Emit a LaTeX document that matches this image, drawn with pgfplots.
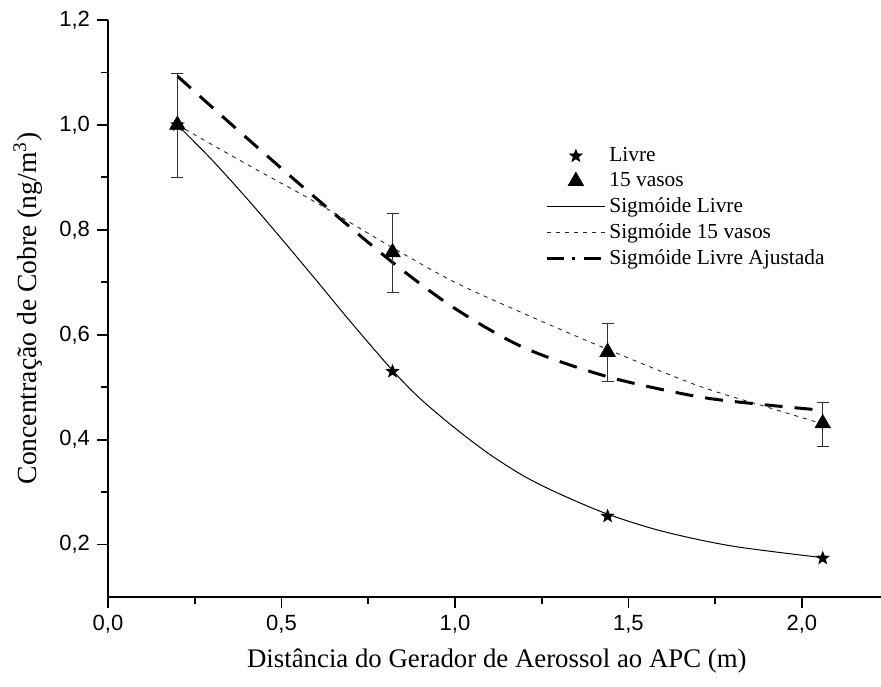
\documentclass[border=0pt]{standalone}
\usepackage{fontspec}
\setmainfont{Liberation Serif}
\newfontfamily\arial{Liberation Sans}
\usepackage{pgfplots}
\pgfplotsset{compat=1.18}

\pgfdeclareplotmark{fstar}{%
  \pgfpathmoveto{\pgfpointpolar{90}{\pgfplotmarksize}}%
  \pgfpathlineto{\pgfpointpolar{126}{0.42\pgfplotmarksize}}%
  \pgfpathlineto{\pgfpointpolar{162}{\pgfplotmarksize}}%
  \pgfpathlineto{\pgfpointpolar{198}{0.42\pgfplotmarksize}}%
  \pgfpathlineto{\pgfpointpolar{234}{\pgfplotmarksize}}%
  \pgfpathlineto{\pgfpointpolar{270}{0.42\pgfplotmarksize}}%
  \pgfpathlineto{\pgfpointpolar{306}{\pgfplotmarksize}}%
  \pgfpathlineto{\pgfpointpolar{342}{0.42\pgfplotmarksize}}%
  \pgfpathlineto{\pgfpointpolar{18}{\pgfplotmarksize}}%
  \pgfpathlineto{\pgfpointpolar{54}{0.42\pgfplotmarksize}}%
  \pgfpathclose
  \pgfusepathqfillstroke}

\begin{document}
\begin{tikzpicture}
\begin{axis}[
  scale only axis, width=386.5pt, height=288.5pt,
  xmin=0, xmax=2.228, ymin=0.1, ymax=1.2,
  axis x line*=bottom, axis y line*=left,
  axis line style={-, line width=0.9pt},
  xtick={0,0.5,1.0,1.5,2.0}, ytick={0.2,0.4,0.6,0.8,1.0,1.2},
  minor x tick num=1, minor y tick num=1,
  tick align=outside,
  major tick length=5.5pt, minor tick length=3.5pt,
  every tick/.style={black, line width=0.9pt},
  ticklabel style={font=\arial\fontsize{11}{13}\selectfont},
  /pgf/number format/use comma,
  /pgf/number format/fixed,
  /pgf/number format/fixed zerofill,
  /pgf/number format/precision=1,
  /pgf/number format/assume math mode=true,
  label style={font=\fontsize{13.4}{16}\selectfont},
  xlabel={Distância do Gerador de Aerossol ao APC (m)},
  ylabel={Concentração de Cobre (ng/m\textsuperscript{3})},
  xlabel style={at={(axis description cs:0.503,-0.111)}, anchor=center},
  ylabel style={at={(axis description cs:-0.1035,0.5)}, anchor=center, font=\fontsize{13.8}{16}\selectfont},
  legend style={draw=none, fill=none, at={(axis description cs:0.5653,0.784)}, anchor=north west,
    font=\fontsize{10.7}{12.25}\selectfont, inner sep=0pt, row sep=1.6pt,
    nodes={inner xsep=1.5pt, inner ysep=1.2pt}},
  legend cell align=left,
  legend image code/.code={\draw[mark repeat=2,mark phase=2,#1] plot coordinates {(0pt,0pt) (14.5pt,0pt) (29pt,0pt)};},
]
% Sigmoide Livre
\addplot[black, line width=0.5pt, smooth, forget plot] coordinates {
(0.2,1.000) (0.3,0.933) (0.4,0.860) (0.5,0.783) (0.6,0.704) (0.7,0.624)
(0.82,0.532) (0.9,0.478) (1.0,0.422) (1.1,0.372) (1.2,0.330) (1.3,0.297)
(1.44,0.258) (1.6,0.225) (1.8,0.197) (2.06,0.175)};
% Sigmoide 15 vasos
\addplot[black!85, line width=0.45pt, dash pattern=on 2pt off 2.5pt, smooth, forget plot] coordinates {
(0.2,1.000) (0.4,0.925) (0.6,0.852) (0.82,0.766) (1.0,0.700) (1.2,0.640)
(1.44,0.572) (1.7,0.503) (1.9,0.462) (2.06,0.430)};
% Sigmoide Livre Ajustada
\addplot[black, line width=1.5pt, dash pattern=on 9pt off 6pt, smooth, forget plot] coordinates {
(0.2,1.093) (0.4,0.975) (0.6,0.860) (0.82,0.738) (1.0,0.650) (1.2,0.575)
(1.44,0.520) (1.7,0.482) (1.9,0.466) (2.06,0.456)};
% Livre
\addplot[only marks, mark=fstar, mark size=3.2pt, black, forget plot] coordinates {
(0.2,1.0) (0.82,0.53) (1.44,0.254) (2.06,0.174)};
% 15 vasos
\addplot[only marks, mark=triangle*, mark size=4.4pt, black, forget plot,
  error bars/.cd, y dir=both, y explicit,
  error bar style={line width=0.5pt, black!80},
  error mark options={rotate=90, mark size=3pt, line width=0.5pt, black!80}] coordinates {
(0.2,1.0) +=(0,0.098) -=(0,0.1)
(0.82,0.757) +=(0,0.074) -=(0,0.076)
(1.44,0.567) +=(0,0.055) -=(0,0.057)
(2.06,0.431) +=(0,0.04) -=(0,0.045)};
\addlegendimage{only marks, mark=fstar, mark size=3.2pt, black}
\addlegendentry{Livre}
\addlegendimage{only marks, mark=triangle*, mark size=4.4pt, black}
\addlegendentry{15 vasos}
\addlegendimage{black, line width=0.5pt}
\addlegendentry{Sigmóide Livre}
\addlegendimage{black!85, line width=0.45pt, dash pattern=on 2pt off 2.5pt}
\addlegendentry{Sigmóide 15 vasos}
\addlegendimage{black, line width=1.5pt, dash pattern=on 8.5pt off 4.25pt on 1.5pt off 4.25pt}
\addlegendentry{Sigmóide Livre Ajustada}
\end{axis}
\pgfresetboundingbox
\path[use as bounding box] (-54pt,-44.5pt) rectangle (386.5pt,298.5pt);
\end{tikzpicture}
\end{document}
